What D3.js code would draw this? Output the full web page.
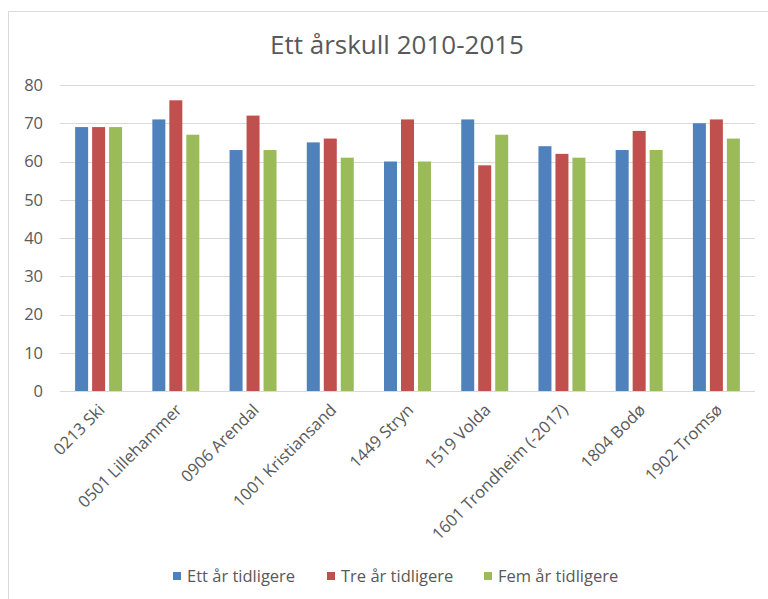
<!DOCTYPE html>
<html>
<head>
<meta charset="utf-8">
<script src="https://cdn.jsdelivr.net/npm/d3@7"></script>
<style>
  body { margin: 0; background: #fff; }
  text { font-family: "Open Sans", sans-serif; fill: #595959; }
</style>
</head>
<body>
<div id="chart"></div>
<script>
var categories = ["0213 Ski", "0501 Lillehammer", "0906 Arendal", "1001 Kristiansand",
                  "1449 Stryn", "1519 Volda", "1601 Trondheim (-2017)", "1804 Bodø", "1902 Tromsø"];
var seriesNames = ["Ett år tidligere", "Tre år tidligere", "Fem år tidligere"];
var ettAr = [69, 71, 63, 65, 60, 71, 64, 63, 70];
var treAr = [69, 76, 72, 66, 71, 59, 62, 68, 71];
var femAr = [69, 67, 63, 61, 60, 67, 61, 63, 66];
var yTicks = [0, 10, 20, 30, 40, 50, 60, 70, 80];
var title = "Ett årskull 2010-2015";

var width = 768, height = 599;
var colors = ["#4F81BD", "#C0504D", "#9BBB59"];
var seriesValues = [ettAr, treAr, femAr];

var svg = d3.select("#chart").append("svg")
    .attr("width", width)
    .attr("height", height);

// ramme
svg.append("rect")
    .attr("x", 8.5).attr("y", 11.5)
    .attr("width", 800).attr("height", 700)
    .attr("fill", "#fff")
    .attr("stroke", "#d9d9d9");

var x0 = d3.scaleBand().domain(categories).range([60, 755]).padding(0);
var x1 = d3.scaleBand().domain(seriesNames).range([0, x0.bandwidth()])
    .paddingInner(0.235).paddingOuter(0.89);
var y = d3.scaleLinear().domain([0, 80]).range([391, 85]);

svg.append("text")
    .attr("x", 397).attr("y", 54)
    .attr("text-anchor", "middle")
    .style("font-size", "26px")
    .text(title);

// rutenett
svg.selectAll(".grid")
    .data(yTicks)
    .enter().append("line")
    .attr("x1", 60).attr("x2", 755)
    .attr("y1", function(d) { return Math.round(y(d)) + 0.5; })
    .attr("y2", function(d) { return Math.round(y(d)) + 0.5; })
    .attr("stroke", "#d9d9d9")
    .attr("stroke-width", 1.2);

svg.selectAll(".ylab")
    .data(yTicks)
    .enter().append("text")
    .attr("x", 43)
    .attr("y", function(d) { return y(d); })
    .attr("dy", "0.35em")
    .attr("text-anchor", "end")
    .style("font-size", "16.5px")
    .text(function(d) { return d; });

var groups = svg.selectAll(".group")
    .data(categories)
    .enter().append("g")
    .attr("transform", function(d) { return "translate(" + x0(d) + ",0)"; });

groups.selectAll("rect")
    .data(function(d, i) {
      return seriesNames.map(function(s, j) { return {s: s, j: j, v: seriesValues[j][i]}; });
    })
    .enter().append("rect")
    .attr("x", function(d) { return x1(d.s); })
    .attr("width", x1.bandwidth())
    .attr("y", function(d) { return y(d.v); })
    .attr("height", function(d) { return y(0) - y(d.v); })
    .attr("fill", function(d) { return colors[d.j]; });

svg.selectAll(".xlab")
    .data(categories)
    .enter().append("text")
    .attr("text-anchor", "end")
    .attr("transform", function(d) {
      return "translate(" + (x0(d) + x0.bandwidth() / 2 + 7) + ",411) rotate(-45)";
    })
    .style("font-size", "16.5px")
    .text(function(d) { return d; });

// forklaring
var legendX = [173, 327, 484];
var legend = svg.selectAll(".legend")
    .data(seriesNames)
    .enter().append("g")
    .attr("transform", function(d, i) { return "translate(" + legendX[i] + ",576)"; });

legend.append("rect")
    .attr("x", 0).attr("y", -4)
    .attr("width", 8).attr("height", 8)
    .attr("fill", function(d, i) { return colors[i]; });

legend.append("text")
    .attr("x", 14)
    .attr("dy", "0.35em")
    .style("font-size", "16.5px")
    .text(function(d) { return d; });
</script>
</body>
</html>
